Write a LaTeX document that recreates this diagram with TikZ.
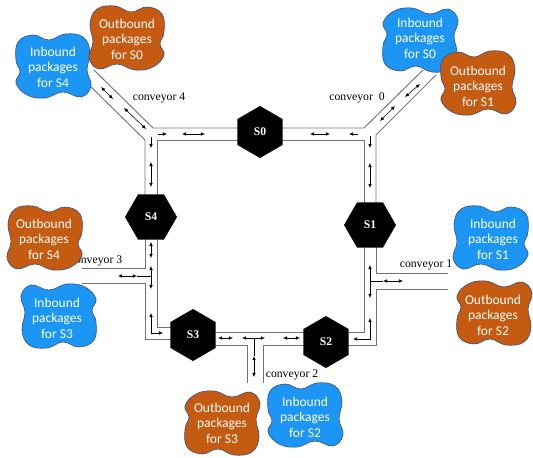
\documentclass[tikz,border=0pt]{standalone}
\usepackage{fontspec}
\setmainfont{Liberation Serif}
\newfontfamily\calibri{Carlito}
\usetikzlibrary{positioning, arrows.meta, shapes.geometric, backgrounds}

\definecolor{inblue}{RGB}{28,150,245}
\definecolor{outorange}{RGB}{197,90,17}
\definecolor{blobline}{RGB}{55,75,125}

% irregular package cloud: #1 centre, #2 colour, #3 extra transform
\newcommand{\pkgblob}[3]{%
  \filldraw[#2, draw=blobline, line width=0.5pt, shift={#1}, #3]
    plot[smooth cycle, tension=0.7] coordinates {(-37,-6) (-35,-24) (-20,-31) (-4,-26) (12,-32) (30,-29) (37,-14) (34,4) (38,20) (28,31) (10,26) (-8,32) (-26,29) (-37,17) (-33,6)};}

\begin{document}
\begin{tikzpicture}[x=0.3mm, y=-0.3mm,
        >={Latex[length=3.5pt, width=3pt]},
        station/.style={regular polygon, regular polygon sides=6, fill=black, text=white, font=\bfseries, minimum size=15.6mm, inner sep=0pt},
        track/.style={black!55, line width=0.8pt},
        belt/.style={line width=0.5pt},
        pkg/.style={font=\calibri\fontsize{11.5}{13.2}\selectfont, text=white, align=center, inner sep=0pt},
        conv/.style={font=\normalsize, inner sep=0pt},
    ]
    \useasboundingbox (0,0) rectangle (533,458);

    % Stations
    \node[station, shape border rotate=30] (S0) at (260,132) {S0};
    \node[station] (S1) at (370,225) {S1};
    \node[station, shape border rotate=30] (S2) at (326,342) {S2};
    \node[station, shape border rotate=30] (S3) at (193,335) {S3};
    \node[station] (S4) at (151,217) {S4};

    % Conveyor tracks
    \begin{scope}[on background layer]
    \draw[track] (S0.center |- 0,128) -- (153,128) -- (94,70);
    \draw[track] (86,82) -- (145,140) -- (S4.center -| 145,0);
    \draw[track] (S0.center |- 0,140) -- (157,140) -- (S4.center -| 157,0);
    \draw[track] (S0.center |- 0,128) -- (364,128) -- (423,70);
    \draw[track] (S0.center |- 0,140) -- (364,140) -- (S1.center -| 364,0);
    \draw[track] (436,75) -- (376,135) -- (S1.center -| 376,0);
    \draw[track] (S4.center -| 145,0) -- (145,268) -- (82,268);
    \draw[track] (82,283) -- (145,283) -- (145,339) -- (S3.center |- 0,339);
    \draw[track] (S4.center -| 157,0) -- (157,327) -- (S3.center |- 0,327);
    \draw[track] (S3.center |- 0,332) -- (S2.center |- 0,332);
    \draw[track] (S3.center |- 0,345) -- (247,345) -- (247,383);
    \draw[track] (263,383) -- (263,345) -- (S2.center |- 0,345);
    \draw[track] (S1.center -| 376,0) -- (376,273) -- (448,273);
    \draw[track] (448,289) -- (376,289) -- (376,345) -- (S2.center |- 0,345);
    \draw[track] (S1.center -| 364,0) -- (364,332) -- (S2.center |- 0,332);
    \end{scope}

    % Flow arrows
    \draw[belt, <->] (101,87) -- (113,99);
    \draw[belt, <->] (124,108) -- (146,129);
    \draw[belt, ->] (158,134) -- (167,134);
    \draw[belt, <->] (182,134) -- (205,134);
    \draw[belt, <->] (310,134) -- (330,134);
    \draw[belt, ->] (358,134) -- (349,134);
    \draw[belt, <->] (380,121) -- (395,106);
    \draw[belt, <->] (405,97) -- (420,84);
    \draw[belt, ->] (151,137) -- (151,148);
    \draw[belt, <->] (151,162) -- (151,187);
    \draw[belt, ->] (370,136) -- (370,148);
    \draw[belt, <->] (370,163) -- (370,188);
    \draw[belt, <->] (151,242) -- (151,258);
    \draw[belt, <->] (151,266) -- (151,289);
    \draw[belt, <->] (118,276) -- (137,276);
    \draw[belt] (137,276) -- (151,276);
    \draw[belt, <->] (151,313) |- (163,333);
    \draw[belt, <->] (218,338) -- (233,338);
    \draw[belt, <->] (242,338) -- (265,338);
    \draw[belt] (254,338) -- (254,356);
    \draw[belt, <->] (254,356) -- (254,377);
    \draw[belt, <->] (283,338) -- (300,338);
    \draw[belt, <->] (370,318) |- (353,339);
    \draw[belt, <->] (370,265) -- (370,298);
    \draw[belt] (370,281) -- (383,281);
    \draw[belt, <->] (383,281) -- (403,281);

    % Conveyor labels
    \node[conv] (c4) at (159,98) {conveyor 4};
    \node[conv] (c0) at (357,98) {conveyor\ \ 0};
    \node[conv] (c3) at (96,261) {conveyor 3};
    \node[conv] (c1) at (426,265) {conveyor 1};
    \node[conv] (c2) at (292,375) {conveyor 2};

    % Package clouds
    \pkgblob{(53,66)}{inblue}{}
    \pkgblob{(127,38)}{outorange}{xscale=-1}
    \pkgblob{(420,40)}{inblue}{yscale=-1}
    \pkgblob{(478,83)}{outorange}{}
    \pkgblob{(45,238)}{outorange}{xscale=-1}
    \pkgblob{(59,316)}{inblue}{xscale=-1, yscale=-1}
    \pkgblob{(222,423)}{outorange}{yscale=-1}
    \pkgblob{(305,415)}{inblue}{}
    \pkgblob{(491,238)}{inblue}{xscale=-1}
    \pkgblob{(494,313)}{outorange}{yscale=-1}

    \node[pkg] (in4) at (53,67) {Inbound\\packages\\for S4};
    \node[pkg] (out0) at (127,39) {Outbound\\packages\\for S0};
    \node[pkg] (in0) at (420,38) {Inbound\\packages\\for S0};
    \node[pkg] (out1) at (478,86) {Outbound\\packages\\for S1};
    \node[pkg] (out4) at (44,239) {Outbound\\packages\\for S4};
    \node[pkg] (in3) at (57,318) {Inbound\\packages\\for S3};
    \node[pkg] (out3) at (222,423) {Outbound\\packages\\for S3};
    \node[pkg] (in2) at (305,417) {Inbound\\packages\\for S2};
    \node[pkg] (in1) at (493,239) {Inbound\\packages\\for S1};
    \node[pkg] (out2) at (493,315) {Outbound\\packages\\for S2};
\end{tikzpicture}
\end{document}
